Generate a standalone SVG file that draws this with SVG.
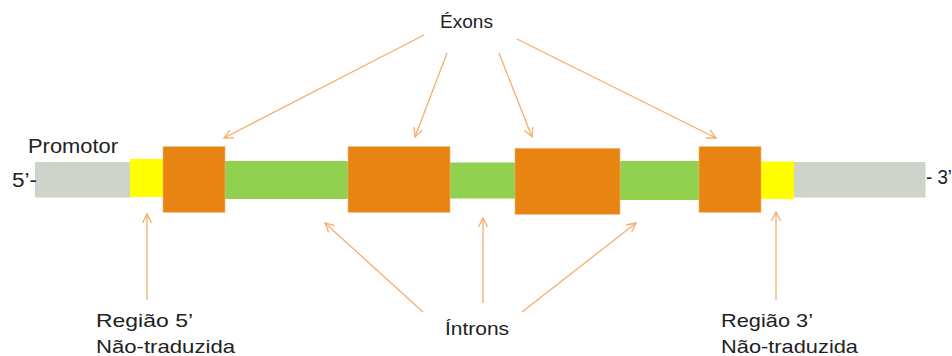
<svg xmlns="http://www.w3.org/2000/svg" width="952" height="356" viewBox="0 0 952 356">
<style>
text{font-family:"Liberation Sans",Arial,sans-serif;fill:#222;}
.gray{fill:#CED4CA;}
.yel{fill:#FFFF00;}
.grn{fill:#92D050;}
.exon{fill:#E88412;stroke:#F3B27A;stroke-width:0.6;}
.arr{stroke:#F5AE6C;stroke-width:1.3;fill:none;marker-end:url(#ah);}
</style>
<defs>
<marker id="ah" markerUnits="userSpaceOnUse" markerWidth="12" markerHeight="12" refX="10" refY="5" orient="auto" viewBox="0 0 12 10">
<path d="M1,0.5 L10,5 L1,9.5" fill="none" stroke="#F5AE6C" stroke-width="1.3"/>
</marker>
</defs>
<rect width="952" height="356" fill="#fff"/>
<g id="backbone">
<rect class="gray" x="35" y="162" width="96" height="35.5"/>
<rect class="gray" x="793" y="162" width="132.5" height="35.5"/>
<rect class="grn" x="224" y="161" width="126" height="38"/>
<rect class="grn" x="449" y="162.5" width="67" height="36"/>
<rect class="grn" x="619" y="161" width="81" height="39"/>
</g>
<g id="utr5"><rect class="yel" x="130" y="159" width="33" height="38"/></g>
<g id="utr3"><rect class="yel" x="761" y="161.5" width="33" height="37.5"/></g>
<g id="exon1"><rect class="exon" x="163" y="146.7" width="62" height="65.6"/></g>
<g id="exon2"><rect class="exon" x="348" y="146.7" width="102" height="65.6"/></g>
<g id="exon3"><rect class="exon" x="515" y="148.3" width="105" height="66"/></g>
<g id="exon4"><rect class="exon" x="699" y="146.7" width="62" height="65.6"/></g>
<g id="labels">
<text x="28" y="153" font-size="21" textLength="90" lengthAdjust="spacingAndGlyphs">Promotor</text>
<text x="12" y="187" font-size="20" textLength="25" lengthAdjust="spacingAndGlyphs">5’-</text>
<text x="926" y="184" font-size="20" textLength="26" lengthAdjust="spacingAndGlyphs">- 3’</text>
<text x="440" y="28" font-size="18" textLength="53" lengthAdjust="spacingAndGlyphs">Éxons</text>
<text x="445" y="335" font-size="18" textLength="64" lengthAdjust="spacingAndGlyphs">Íntrons</text>
<text x="96" y="327" font-size="19" textLength="97" lengthAdjust="spacingAndGlyphs">Região 5’</text>
<text x="96" y="353" font-size="19" textLength="139" lengthAdjust="spacingAndGlyphs">Não-traduzida</text>
<text x="721" y="327" font-size="19" textLength="92" lengthAdjust="spacingAndGlyphs">Região 3’</text>
<text x="721" y="353" font-size="19" textLength="137" lengthAdjust="spacingAndGlyphs">Não-traduzida</text>
</g>
<g id="connectors">
<line class="arr" x1="424" y1="35" x2="224" y2="138"/>
<line class="arr" x1="447" y1="53" x2="415" y2="137"/>
<line class="arr" x1="499" y1="53" x2="532" y2="137"/>
<line class="arr" x1="517" y1="39" x2="716" y2="138"/>
<line class="arr" x1="423" y1="312" x2="325" y2="223"/>
<line class="arr" x1="483" y1="303" x2="483" y2="218"/>
<line class="arr" x1="522" y1="312" x2="636" y2="223"/>
<line class="arr" x1="147" y1="300" x2="147" y2="214"/>
<line class="arr" x1="776" y1="300" x2="776" y2="212"/>
</g>
</svg>
